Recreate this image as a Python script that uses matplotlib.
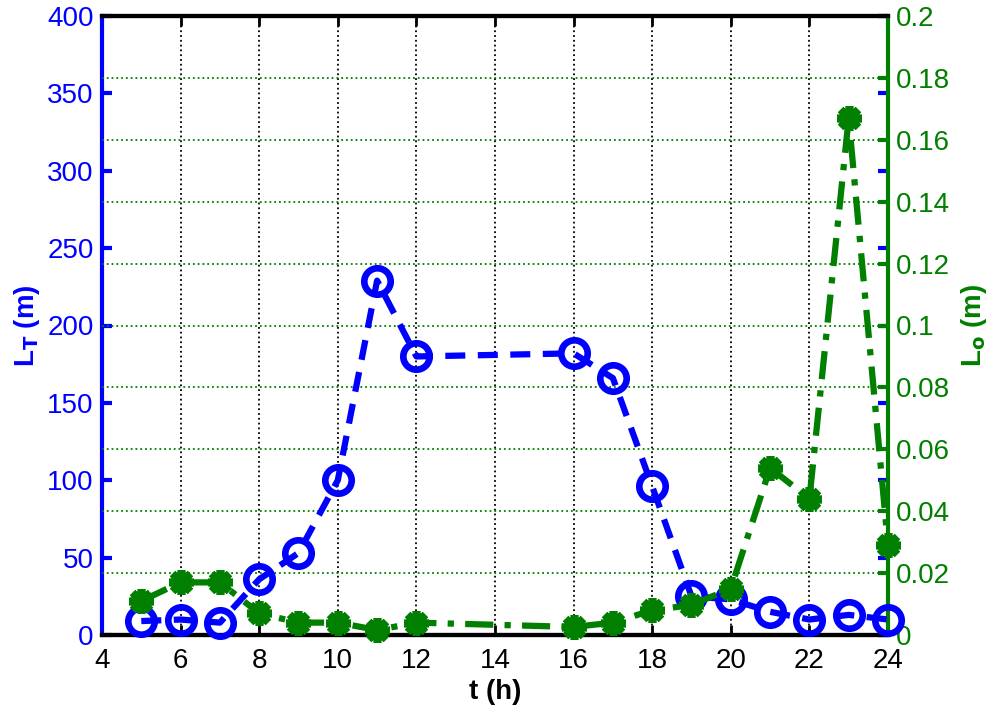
import matplotlib.pyplot as plt
import numpy as np

plt.rcParams['font.family'] = ['Liberation Sans', 'DejaVu Sans']

t = [5, 6, 7, 8, 9, 10, 11, 12, 16, 17, 18, 19, 20, 21, 22, 23, 24]
LT = [9, 10, 8, 36, 53, 100, 229, 180, 182, 166, 96, 25, 23, 15, 10, 13, 10]
Lo = [0.011, 0.017, 0.017, 0.007, 0.004, 0.004, 0.0016, 0.004, 0.0026,
      0.004, 0.008, 0.0097, 0.015, 0.054, 0.044, 0.167, 0.029]

blue = '#0000ff'
green = '#007f00'
fs = 20

fig = plt.figure(figsize=(9.87, 7.14), dpi=100)
ax = fig.add_axes([102/987, 1-635/714, 786/987, 619/714])
ax2 = ax.twinx()

# vertical grid (x) in black, horizontal grid from right axis in green
ax.set_xlim(4, 24)
ax.set_ylim(0, 400)
ax.set_xticks(np.arange(4, 25, 2))
ax.set_yticks(np.arange(0, 401, 50))
ax.xaxis.grid(True, color='black', linestyle=':', linewidth=1.3)
ax2.set_ylim(0, 0.2)
ax2.set_yticks(np.arange(0, 0.201, 0.02))
ax2.set_yticklabels(['0', '0.02', '0.04', '0.06', '0.08', '0.1', '0.12',
                     '0.14', '0.16', '0.18', '0.2'])
ax2.yaxis.grid(True, color=green, linestyle=':', linewidth=1.3)
ax.set_axisbelow(True)

ax2.plot(t, np.array(LT) / 2000, linestyle='--', color=blue, linewidth=4.5,
         marker='o', markersize=19, markeredgewidth=4.8,
         markerfacecolor='none', markeredgecolor=blue, clip_on=False, zorder=3,
         dashes=(3.2, 2))
ax2.plot(t, Lo, linestyle='-.', color=green, linewidth=4.5, marker=(8, 2, 0),
         markersize=18, markeredgewidth=5.5, markerfacecolor=green,
         markeredgecolor=green, clip_on=False, zorder=4,
         dashes=(4.5, 1.8, 1, 1.8))

ax.tick_params(axis='x', direction='in', length=7, width=2, top=True,
               labelsize=fs, colors='black', pad=9)
ax.tick_params(axis='y', direction='in', length=7, width=3, right=True,
               labelsize=fs, colors=blue, labelcolor=blue, pad=6)
ax2.tick_params(axis='y', direction='in', length=7, width=3,
                labelsize=fs, colors=green, pad=6)

for s in ['top', 'bottom']:
    ax.spines[s].set_linewidth(3)
    ax.spines[s].set_color('black')
ax.spines['left'].set_linewidth(3)
ax.spines['left'].set_color(blue)
ax2.spines['right'].set_linewidth(3)
ax2.spines['right'].set_color(green)
ax2.spines['left'].set_visible(False)
ax2.spines['top'].set_linewidth(3)
ax2.spines['bottom'].set_linewidth(3)
ax.spines['right'].set_visible(False)

ax.set_xlabel('t (h)', fontsize=fs, fontweight='bold', labelpad=4)
ax.set_ylabel('L$_\\mathbf{T}$ (m)', fontsize=fs, fontweight='bold',
              color=blue, labelpad=4)
ax2.set_ylabel('L$_\\mathbf{o}$ (m)', fontsize=fs, fontweight='bold',
               color=green, rotation=90, labelpad=6)

fig.savefig('out.png', dpi=100)
